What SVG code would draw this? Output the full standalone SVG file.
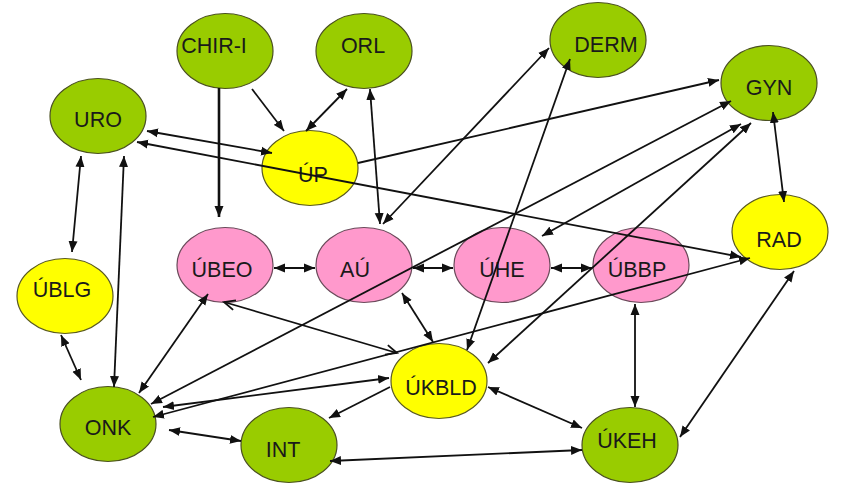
<svg xmlns="http://www.w3.org/2000/svg" width="850" height="504" viewBox="0 0 850 504">
<style>
.g{fill:#99cc00;stroke:#4a5020;stroke-width:1.2}
.y{fill:#ffff00;stroke:#5a5a20;stroke-width:1.2}
.p{fill:#ff99cc;stroke:#6a4a5a;stroke-width:1.2}
text{font-family:"Liberation Sans",Arial,sans-serif;font-size:21.5px;fill:#1a1a1a;text-anchor:middle}
.e line{stroke:#111;stroke-width:1.8;fill:none}
.b{marker-start:url(#a);marker-end:url(#a)}
.s{marker-end:url(#a)}
.o{marker-start:url(#v);marker-end:url(#v)}
</style>
<defs>
<marker id="a" markerUnits="userSpaceOnUse" markerWidth="12" markerHeight="10" refX="11" refY="5" orient="auto-start-reverse" viewBox="0 0 12 10"><path d="M0,0.5 L11,5 L0,9.5 z" fill="#111"/></marker>
<marker id="v" markerUnits="userSpaceOnUse" markerWidth="14" markerHeight="12" refX="12" refY="6" orient="auto-start-reverse" viewBox="0 0 14 12"><path d="M1,1 L12,6 L1,11" fill="none" stroke="#111" stroke-width="1.8"/></marker>
</defs>
<rect width="850" height="504" fill="#fff"/>
<g id="nodes">
<g id="CHIR-I"><ellipse class="g" cx="225" cy="51" rx="48" ry="37.5"/><text x="214" y="53">CHIR-I</text></g>
<g id="ORL"><ellipse class="g" cx="364" cy="51" rx="48" ry="37.5"/><text x="363" y="53">ORL</text></g>
<g id="URO"><ellipse class="g" cx="98" cy="116" rx="48" ry="37.5"/><text x="98" y="127">URO</text></g>
<g id="UP"><ellipse class="y" cx="310" cy="168" rx="48" ry="37.5"/><text x="313" y="182">ÚP</text></g>
<g id="DERM"><ellipse class="g" cx="598" cy="40" rx="48" ry="37.5"/><text x="606" y="52">DERM</text></g>
<g id="GYN"><ellipse class="g" cx="769" cy="83" rx="48" ry="37.5"/><text x="769" y="95">GYN</text></g>
<g id="RAD"><ellipse class="y" cx="780" cy="232" rx="48" ry="37.5"/><text x="779" y="247">RAD</text></g>
<g id="UBEO"><ellipse class="p" cx="225" cy="265" rx="48" ry="37.5"/><text x="222" y="277">ÚBEO</text></g>
<g id="AU"><ellipse class="p" cx="364" cy="265" rx="48" ry="37.5"/><text x="355" y="277">AÚ</text></g>
<g id="UHE"><ellipse class="p" cx="502" cy="265" rx="48" ry="37.5"/><text x="502" y="277">ÚHE</text></g>
<g id="UBBP"><ellipse class="p" cx="641" cy="265" rx="48" ry="37.5"/><text x="637" y="277">ÚBBP</text></g>
<g id="UBLG"><ellipse class="y" cx="65" cy="296" rx="48" ry="37.5"/><text x="62" y="297">ÚBLG</text></g>
<g id="ONK"><ellipse class="g" cx="108" cy="424" rx="48" ry="37.5"/><text x="108" y="435">ONK</text></g>
<g id="INT"><ellipse class="g" cx="289" cy="445" rx="48" ry="37.5"/><text x="283" y="457">INT</text></g>
<g id="UKBLD"><ellipse class="y" cx="439" cy="381" rx="48" ry="37.5"/><text x="441" y="395">ÚKBLD</text></g>
<g id="UKEH"><ellipse class="g" cx="630" cy="445" rx="48" ry="37.5"/><text x="627" y="448">ÚKEH</text></g>
</g>
<g id="connectors" class="e">
<line class="s" x1="219" y1="88" x2="219" y2="217" style="stroke-width:2.6"/>
<line class="s" x1="252" y1="89" x2="284" y2="131"/>
<line class="b" x1="306" y1="131" x2="347" y2="89"/>
<line class="b" x1="370" y1="89" x2="380" y2="224"/>
<line class="b" x1="549" y1="48" x2="383" y2="224"/>
<line class="b" x1="570" y1="59" x2="467" y2="350"/>
<line class="b" x1="147" y1="131" x2="272" y2="153"/>
<line class="b" x1="137" y1="142" x2="741" y2="257"/>
<line class="s" x1="358" y1="163" x2="719" y2="80"/>
<line class="b" x1="773" y1="112" x2="784" y2="202"/>
<line class="b" x1="731" y1="101" x2="151" y2="404"/>
<line class="b" x1="741" y1="124" x2="542" y2="236"/>
<line class="b" x1="751" y1="123" x2="488" y2="363"/>
<line class="b" x1="274" y1="268" x2="315" y2="268"/>
<line class="b" x1="413" y1="268" x2="453" y2="268"/>
<line class="b" x1="551" y1="268" x2="592" y2="268"/>
<line class="b" x1="402" y1="293" x2="433" y2="342"/>
<line class="b" x1="208" y1="294" x2="139" y2="393"/>
<line class="o" x1="224" y1="302" x2="397" y2="353"/>
<line class="b" x1="750" y1="258" x2="153" y2="417"/>
<line class="b" x1="389" y1="378" x2="163" y2="407"/>
<line class="b" x1="81" y1="156" x2="72" y2="252"/>
<line class="b" x1="124" y1="156" x2="114" y2="387"/>
<line class="b" x1="61" y1="335" x2="81" y2="380"/>
<line class="b" x1="169" y1="430" x2="241" y2="441"/>
<line class="s" x1="390" y1="387" x2="329" y2="418"/>
<line class="b" x1="330" y1="461" x2="582" y2="450"/>
<line class="b" x1="488" y1="387" x2="582" y2="428"/>
<line class="b" x1="635" y1="304" x2="635" y2="407"/>
<line class="b" x1="794" y1="271" x2="680" y2="437"/>
</g>
</svg>
